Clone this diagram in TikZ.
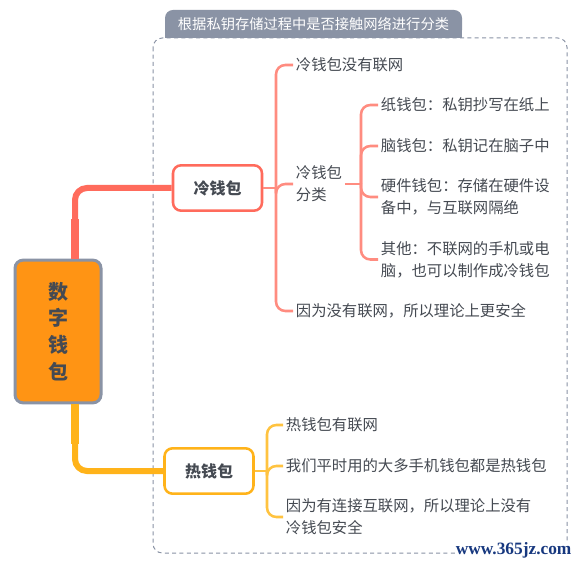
\documentclass[tikz,border=0pt]{standalone}
\usepackage{fontspec}
\setmainfont{Noto Sans CJK SC}
\newfontfamily\wmfont{Liberation Serif}

\definecolor{coldred}{HTML}{FF6B5C}
\definecolor{coldlight}{HTML}{FF8C80}
\definecolor{hotyellow}{HTML}{FFB31A}
\definecolor{hotlight}{HTML}{FFC340}
\definecolor{rootorange}{HTML}{FF9414}
\definecolor{slate}{HTML}{8A93A5}
\definecolor{inkgray}{HTML}{454A52}
\definecolor{wmblue}{HTML}{17387F}

\begin{document}
\begin{tikzpicture}[x=0.75pt,y=-0.75pt,
	every node/.style={text=inkgray, font=\fontsize{11.5}{16.5}\selectfont},
	item/.style={anchor=west, inner sep=2pt, align=left},
	rootbox/.style={draw=slate, line width=2.25pt, fill=rootorange, rounded corners=6pt, minimum width=64.5pt, minimum height=107pt, align=center, font=\fontsize{15}{20}\selectfont\bfseries},
	walletbox/.style={fill=white, line width=1.9pt, rounded corners=6pt, minimum width=66.75pt, minimum height=34pt, font=\fontsize{12}{14}\selectfont\bfseries},
	coldbox/.style={walletbox, draw=coldred},
	hotbox/.style={walletbox, draw=hotyellow},
	ctrunk/.style={draw=coldred, line width=4.5pt, rounded corners=9pt},
	htrunk/.style={draw=hotyellow, line width=4.5pt, rounded corners=9pt},
	cbranch/.style={draw=coldlight, line width=1.9pt, rounded corners=7pt},
	hbranch/.style={draw=hotlight, line width=1.9pt, rounded corners=7pt}]

	% Background
	\fill[white] (0,0) rectangle (578,566);

	% Group frame and its tab
	\draw[slate, line width=0.75pt, dash pattern=on 3pt off 2.5pt, rounded corners=7pt] (153,38) rectangle (567,553);
	\fill[slate, rounded corners=6pt] (165,10) rectangle (462,38);
	\fill[slate] (165,24) rectangle (462,38);
	\node[text=white, font=\fontsize{10.7}{12}\selectfont] (title) at (313.5,24) {根据私钥存储过程中是否接触网络进行分类};

	% Main nodes
	\node[rootbox] (root) at (58,331.5) {数\\字\\钱\\包};
	\node[coldbox] (cold) at (217.5,188) {冷钱包};
	\node[hotbox] (hot) at (209,471) {热钱包};

	% Cold wallet items
	\node[item] (c1) at (293,65) {冷钱包没有联网};
	\node[item] (c2) at (293,184) {冷钱包\\分类};
	\node[item] (c3) at (293,311) {因为没有联网，所以理论上更安全};
	\node[item] (s1) at (378,105) {纸钱包：私钥抄写在纸上};
	\node[item] (s2) at (378,146) {脑钱包：私钥记在脑子中};
	\node[item] (s3) at (378,197) {硬件钱包：存储在硬件设\\备中，与互联网隔绝};
	\node[item] (s4) at (378,259.5) {其他：不联网的手机或电\\脑，也可以制作成冷钱包};

	% Hot wallet items
	\node[item] (h1) at (283,425) {热钱包有联网};
	\node[item] (h2) at (283,466) {我们平时用的大多手机钱包都是热钱包};
	\node[item] (h3) at (283,517) {因为有连接互联网，所以理论上没有\\冷钱包安全};

	% Trunks
	\draw[ctrunk] ([xshift=12.75pt]root.north) |- (cold.west);
	\draw[coldred, line width=6.5pt] ([xshift=12.75pt]root.north) -- ++(0,-40);
	\draw[htrunk] ([xshift=12.75pt]root.south) |- (hot.west);
	\draw[hotyellow, line width=6.5pt] ([xshift=12.75pt]root.south) -- ++(0,40);

	% Cold branches
	\coordinate (cfork) at (276,188);
	\draw[cbranch] (cold.east) -- (cfork);
	\foreach \n in {c1,c2,c3}
		\draw[cbranch] (cfork) |- (\n.west);
	\coordinate (sfork) at (361,184);
	\draw[cbranch] (c2.east) -- (sfork);
	\foreach \n in {s1,s2,s3,s4}
		\draw[cbranch] (sfork) |- (\n.west);

	% Hot branches
	\coordinate (hfork) at (267,471);
	\draw[hbranch] (hot.east) -- (hfork);
	\foreach \n in {h1,h2,h3}
		\draw[hbranch] (hfork) |- (\n.west);

	% Site mark
	\node[anchor=east, fill=white, inner sep=1pt, text=wmblue, font=\wmfont\bfseries\fontsize{13}{13}\selectfont] (site) at (573,550) {www.365jz.com};
\end{tikzpicture}
\end{document}
